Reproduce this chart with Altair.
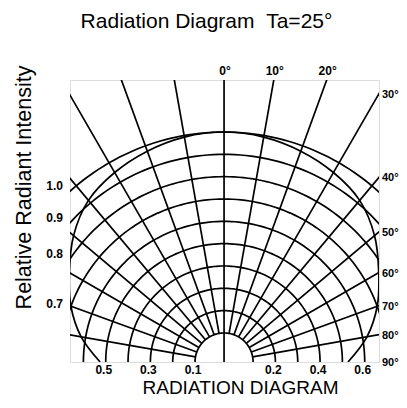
import altair as alt
import pandas as pd
import numpy as np

# ---- data ----
ring_values = [0.1, 0.2, 0.3, 0.4, 0.5, 0.6, 0.7, 0.8, 0.9, 1.0]
radial_angles = [-80, -70, -60, -50, -40, -30, -20, -10, 10, 20, 30, 40, 50, 60, 70, 80]
curve_angles = [-90, -80, -70, -60, -50, -40, -30, -20, -10, 0,
                10, 20, 30, 40, 50, 60, 70, 80, 90]
curve_values = [0.525, 0.62, 0.70, 0.77, 0.85, 0.915, 0.95, 0.975, 0.993, 1.0,
                0.993, 0.975, 0.95, 0.915, 0.85, 0.77, 0.70, 0.62, 0.525]
left_label_values = [1.0, 0.9, 0.8, 0.7]
left_labels = ["1.0", "0.9", "0.8", "0.7"]
bottom_label_values = [0.5, 0.3, 0.1, 0.2, 0.4, 0.6]
bottom_label_sides = [-1, -1, -1, 1, 1, 1]
bottom_labels = ["0.5", "0.3", "0.1", "0.2", "0.4", "0.6"]
top_angle_values = [0, 10, 20]
top_angle_labels = ["0°", "10°", "20°"]
right_angle_values = [30, 40, 50, 60, 70, 80, 90]
right_angle_labels = ["30°", "40°", "50°", "60°", "70°", "80°", "90°"]

# ---- geometry of the diagram ----
HUB = 0.03          # ring v is drawn at radius v + HUB
X_MIN, X_MAX, Y_MAX = -0.69, 0.694, 1.263
FONT = "Liberation Sans"

def rad(v):
    return v + HUB

# rings
rows = []
for v in ring_values:
    for a in np.arange(-90, 90.01, 1.5):
        t = np.radians(a)
        rows.append({"ring": v, "a": a, "x": rad(v) * np.sin(t), "y": rad(v) * np.cos(t)})
rings = pd.DataFrame(rows)

# radial lines
rl = []
for a in radial_angles + [0]:
    t = np.radians(a)
    r0 = 0.0 if a == 0 else rad(0.1)
    rl.append({"x": r0 * np.sin(t), "y": r0 * np.cos(t),
               "x2": 2.5 * np.sin(t), "y2": 2.5 * np.cos(t)})
radials = pd.DataFrame(rl)

# curve
curve = pd.DataFrame({
    "a": curve_angles,
    "x": [rad(v) * np.sin(np.radians(a)) for a, v in zip(curve_angles, curve_values)],
    "y": [rad(v) * np.cos(np.radians(a)) for a, v in zip(curve_angles, curve_values)],
})

# labels
left_df = pd.DataFrame({
    "x": [X_MIN] * len(left_label_values),
    "y": [np.sqrt(rad(v) ** 2 - X_MIN ** 2) for v in left_label_values],
    "t": left_labels,
})
bottom_df = pd.DataFrame({
    "x": [s * rad(v) for v, s in zip(bottom_label_values, bottom_label_sides)],
    "y": [0.0] * len(bottom_label_values),
    "t": bottom_labels,
})
top_df = pd.DataFrame({
    "x": [Y_MAX * np.tan(np.radians(a)) for a in top_angle_values],
    "y": [Y_MAX] * len(top_angle_values),
    "t": top_angle_labels,
})
right_df = pd.DataFrame({
    "x": [X_MAX] * len(right_angle_values),
    "y": [X_MAX / np.tan(np.radians(a)) for a in right_angle_values],
    "t": right_angle_labels,
})

xs = alt.Scale(domain=[X_MIN, X_MAX], nice=False, zero=False)
ys = alt.Scale(domain=[0, Y_MAX], nice=False, zero=False)
xaxis = alt.Axis(labels=False, ticks=False, domain=False, grid=False,
                 title="RADIATION DIAGRAM", titleFont=FONT, titleFontSize=19,
                 titleFontWeight="normal", titleColor="black",
                 titleX=170, titleY=25, titleBaseline="middle", titleAlign="center")
yaxis = alt.Axis(labels=False, ticks=False, domain=False, grid=False,
                 title="Relative Radiant Intensity", titleFont=FONT, titleFontSize=21.5,
                 titleFontWeight="normal", titleColor="black",
                 titleX=-46, titleY=107, titleAngle=270,
                 titleBaseline="middle", titleAlign="center")
X = alt.X("x:Q", scale=xs, axis=xaxis)
Y = alt.Y("y:Q", scale=ys, axis=yaxis)

ring_layer = alt.Chart(rings).mark_line(color="black", strokeWidth=1.7, clip=True).encode(
    x=X, y=Y, detail="ring:N", order="a:Q")
radial_layer = alt.Chart(radials).mark_rule(color="black", strokeWidth=1.7, clip=True).encode(
    x=X, y=Y, x2="x2:Q", y2="y2:Q")
curve_layer = alt.Chart(curve).mark_line(color="black", strokeWidth=1.7, clip=True,
                                         interpolate="catmull-rom").encode(
    x=X, y=Y, order="a:Q")

lbl = dict(font=FONT, fontSize=12, fontWeight="bold", color="black")
lbl_r = dict(font=FONT, fontSize=11, fontWeight="bold", color="black")
left_layer = alt.Chart(left_df).mark_text(align="right", baseline="middle", dx=-7, dy=-5, **lbl).encode(
    x=X, y=Y, text="t:N")
bottom_layer = alt.Chart(bottom_df).mark_text(align="center", baseline="middle", dx=-2, dy=8, **lbl).encode(
    x=X, y=Y, text="t:N")
top_layer = alt.Chart(top_df).mark_text(align="center", baseline="middle", dx=1, dy=-9, **lbl).encode(
    x=X, y=Y, text="t:N")
right_layer = alt.Chart(right_df).mark_text(align="left", baseline="middle", dx=3, dy=1, **lbl_r).encode(
    x=X, y=Y, text="t:N")

chart = alt.layer(
    ring_layer, radial_layer, curve_layer,
    left_layer, bottom_layer, top_layer, right_layer,
).properties(
    width=309, height=282,
    title=alt.TitleParams(text="Radiation Diagram \u00a0Ta=25°", frame="group", anchor="middle",
                          offset=33, dx=-18, font=FONT, fontSize=21, fontWeight="normal",
                          color="black"),
    autosize=alt.AutoSizeParams(type="none"),
    padding={"left": 62, "top": 72, "right": 20, "bottom": 34},
).configure_view(stroke="black", strokeWidth=1.7).configure(background="white")

chart.save("out.html", embed_options={"renderer": "svg", "actions": False})
